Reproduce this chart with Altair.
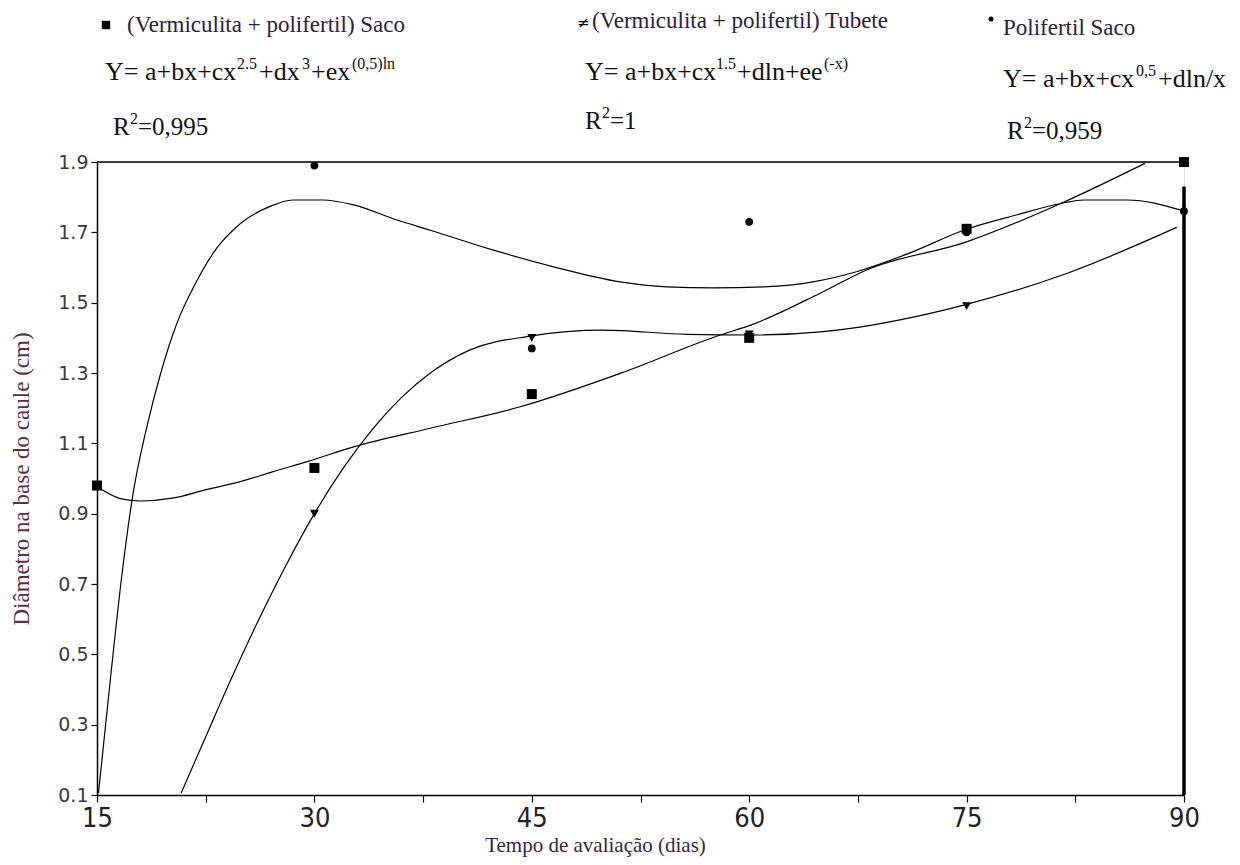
import altair as alt
import pandas as pd

# ---------------- data ----------------
# observed points
vs_x = [15, 30, 45, 60, 75, 90]                 # (Vermiculita + polifertil) Saco
vs_y = [0.98, 1.03, 1.24, 1.40, 1.71, 1.90]
tb_x = [30, 45, 60, 75]                          # (Vermiculita + polifertil) Tubete
tb_y = [0.90, 1.40, 1.41, 1.49]
ps_x = [30, 45, 60, 75, 90]                      # Polifertil Saco
ps_y = [1.89, 1.37, 1.73, 1.70, 1.76]

# fitted curves
cA_x = [15.1, 15.9, 16.7, 17.5, 18.4, 19.4, 20.5, 21.8, 23.0, 24.9, 26.9, 28.5, 30.6, 32.7,
        35.7, 38.0, 42.3, 46.5, 51.1, 54.3, 57.5, 61.0, 64.5, 67.4, 71.0, 74.8, 78.5, 81.5,
        83.1, 86.1, 89.8]
cA_y = [0.105, 0.42, 0.72, 0.96, 1.14, 1.30, 1.44, 1.555, 1.640, 1.725, 1.773, 1.792,
        1.792, 1.778, 1.735, 1.706, 1.650, 1.602, 1.559, 1.545, 1.542, 1.545, 1.560, 1.588,
        1.640, 1.706, 1.750, 1.782, 1.792, 1.792, 1.763]

cB_x = [15.0, 16.6, 18.0, 20.2, 22.6, 24.9, 27.1, 29.5, 32.7, 38.0, 44.2, 51.1, 58.0, 60.1,
        64.9, 68.1, 75.0, 81.5, 87.3]
cB_y = [0.977, 0.943, 0.936, 0.944, 0.969, 0.991, 1.019, 1.048, 1.090, 1.143, 1.204, 1.299,
        1.408, 1.436, 1.527, 1.593, 1.673, 1.782, 1.896]

cC_x = [20.8, 22.6, 24.2, 26.0, 28.0, 30.0, 32.0, 34.0, 36.0, 38.0, 40.7, 44.9, 49.9, 55.7,
        60.3, 64.9, 67.5, 70.4, 74.8, 81.9, 89.5]
cC_y = [0.105, 0.275, 0.425, 0.585, 0.750, 0.900, 1.030, 1.140, 1.230, 1.300, 1.365, 1.405,
        1.422, 1.410, 1.408, 1.417, 1.430, 1.451, 1.493, 1.583, 1.714]

x_ticks = [15, 22.5, 30, 37.5, 45, 52.5, 60, 67.5, 75, 82.5, 90]
y_ticks = [0.1, 0.3, 0.5, 0.7, 0.9, 1.1, 1.3, 1.5, 1.7, 1.9]

series_names = ["(Vermiculita + polifertil) Saco",
                "(Vermiculita + polifertil) Tubete",
                "Polifertil Saco"]

# ---------------- tables ----------------
pts = pd.concat([
    pd.DataFrame({"x": vs_x, "y": vs_y, "s": series_names[0]}),
    pd.DataFrame({"x": tb_x, "y": tb_y, "s": series_names[1]}),
    pd.DataFrame({"x": ps_x, "y": ps_y, "s": series_names[2]}),
], ignore_index=True)

curves = pd.concat([
    pd.DataFrame({"x": cA_x, "y": cA_y, "c": "A"}),
    pd.DataFrame({"x": cB_x, "y": cB_y, "c": "B"}),
    pd.DataFrame({"x": cC_x, "y": cC_y, "c": "C"}),
], ignore_index=True)

edge = pd.DataFrame({"x": [90], "y": [0.1], "y2": [1.83]})

SERIF = "Liberation Serif, Times New Roman, serif"
LEFT, TOP = 97, 162  # page position of plot origin
W, H = 1087, 633

xs = alt.Scale(domain=[15, 90], nice=False, zero=False)
ys = alt.Scale(domain=[0.1, 1.9], nice=False, zero=False)

xenc = alt.X("x:Q", scale=xs, axis=alt.Axis(
    values=x_ticks, labelExpr="datum.value % 15 === 0 ? datum.label : ''",
    labelFlush=False,
    title="Tempo de avaliação (dias)", titleFont=SERIF, titleFontSize=21,
    titleFontWeight="normal", titleColor="#3a1f3a", titleX=498, titleY=50,
    titleBaseline="middle", titleAlign="center",
    labelFont="Liberation Sans Narrow, DejaVu Sans Condensed, sans-serif",
    labelFontSize=27, labelColor="#222",
    labelPadding=3, tickSize=7, tickColor="black", domainColor="black",
    domainWidth=1.5, tickWidth=1.2, grid=False))
yenc = alt.Y("y:Q", scale=ys, axis=alt.Axis(
    values=y_ticks, format=".1f",
    title="Diâmetro na base do caule (cm)", titleFont=SERIF, titleFontSize=23,
    titleFontWeight="normal", titleColor="#5a2f45", titlePadding=24,
    labelFont="DejaVu Sans", labelFontSize=19, labelColor="#3a3a3a",
    labelPadding=3, tickSize=6, tickColor="black", domainColor="black",
    domainWidth=1.5, tickWidth=1.2, grid=False))

lines = alt.Chart(curves).mark_line(color="black", strokeWidth=1.2,
                                    interpolate="monotone", clip=True).encode(
    x=xenc, y=yenc, detail="c:N")

points = alt.Chart(pts).mark_point(filled=True, opacity=1, color="black").encode(
    x=alt.X("x:Q", scale=xs), y=alt.Y("y:Q", scale=ys),
    shape=alt.Shape("s:N", legend=None, scale=alt.Scale(
        domain=series_names, range=["square", "triangle-down", "circle"])),
    size=alt.Size("s:N", legend=None, scale=alt.Scale(
        domain=series_names, range=[100, 60, 60])))

rule = alt.Chart(edge).mark_rule(color="black", strokeWidth=3.5).encode(
    x=alt.X("x:Q", scale=xs), y=alt.Y("y:Q", scale=ys), y2="y2:Q")

dummy = alt.Data(values=[{}])

top_border = alt.Chart(dummy).mark_rule(color="black", strokeWidth=1.6).encode(
    x=alt.value(0), x2=alt.value(W), y=alt.value(0))


def txt(text, px, py, size=26, color="#111", font=SERIF):
    return alt.Chart(dummy).mark_text(
        text=text, align="left", baseline="alphabetic", fontSize=size,
        font=font, color=color).encode(
        x=alt.value(px - LEFT), y=alt.value(py - TOP))


def sym(shape, px, py, size):
    return alt.Chart(dummy).mark_point(
        shape=shape, filled=True, opacity=1, color="black", size=size).encode(
        x=alt.value(px - LEFT), y=alt.value(py - TOP))


NAME = "#2b1d40"
SUP = 16
NS = 23
ann = [
    # series 1
    sym("square", 106, 25, 70),
    txt("(Vermiculita + polifertil) Saco", 127, 32, NS, NAME),
    txt("Y= a+bx+cx", 105, 80), txt("2.5", 237, 69, SUP),
    txt("+dx", 259, 80), txt("3", 302, 69, SUP),
    txt("+ex", 311, 80), txt("(0,5)ln", 352, 69, SUP),
    txt("R", 113, 135, 25), txt("2", 130, 124, SUP), txt("=0,995", 138, 135, 25),
    # series 2
    txt("≠", 577, 28, 15, "black", "DejaVu Sans"),
    txt("(Vermiculita + polifertil)  Tubete", 592, 28, NS, NAME),
    txt("Y= a+bx+cx", 585, 80), txt("1.5", 716, 69, SUP),
    txt("+dln+ee", 737, 80), txt("(-x)", 824, 69, SUP),
    txt("R", 585, 129, 25), txt("2", 602, 118, SUP), txt("=1", 610, 129, 25),
    # series 3
    sym("circle", 991, 19, 25),
    txt("Polifertil  Saco", 1003, 35, NS, NAME),
    txt("Y= a+bx+cx", 1003, 87), txt("0,5", 1136, 76, SUP),
    txt("+dln/x", 1158, 87),
    txt("R", 1007, 139, 25), txt("2", 1024, 128, SUP), txt("=0,959", 1032, 139, 25),
]

chart = alt.layer(lines, points, rule, top_border, *ann).properties(
    width=W, height=H,
    autosize=alt.AutoSizeParams(type="none"),
    padding={"left": 89, "top": 154, "right": 48, "bottom": 62},
).configure_view(stroke="black", strokeWidth=1.5).configure(background="white")

chart.save("out.html", embed_options={"renderer": "svg", "actions": False})
